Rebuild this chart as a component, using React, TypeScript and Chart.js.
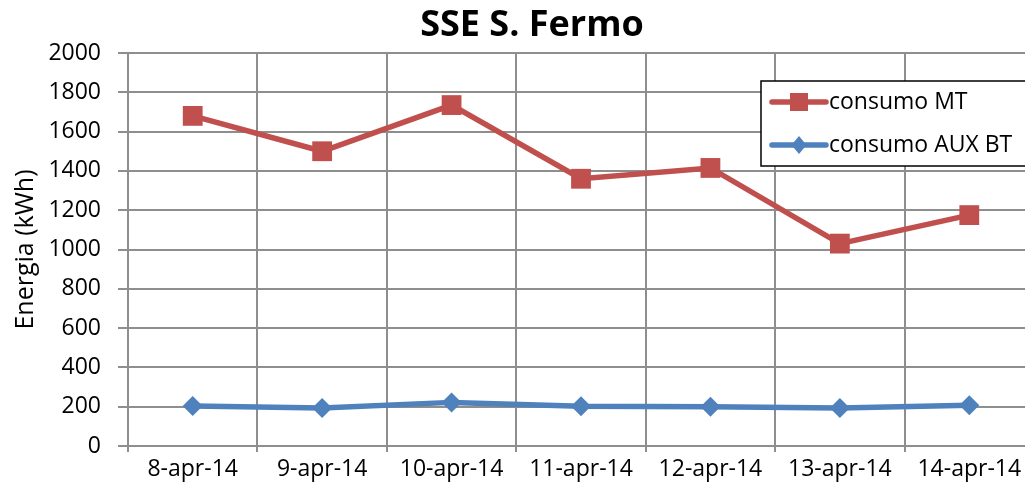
import React, { useEffect, useRef } from 'react';
import { Chart, registerables } from 'chart.js';

Chart.register(...registerables);

const categories = ['8-apr-14', '9-apr-14', '10-apr-14', '11-apr-14', '12-apr-14', '13-apr-14', '14-apr-14'];
const consumoMT = [1680, 1500, 1735, 1360, 1415, 1030, 1175];
const consumoAUX = [203, 193, 222, 202, 200, 193, 208];
const seriesNames = ['consumo MT', 'consumo AUX BT'];
const yMin = 0;
const yMax = 2000;
const yStep = 200;

const RED = '#C0504D';
const BLUE = '#4F81BD';
const GRID = '#8E8E8E';
const FONT = '"Open Sans"';

const insideLegend = {
  id: 'insideLegend',
  afterDraw(chart: any) {
    const ctx = chart.ctx as CanvasRenderingContext2D;
    ctx.save();
    const x0 = 761, y0 = 81, x1 = 1050, y1 = 166;
    ctx.fillStyle = '#ffffff';
    ctx.fillRect(x0, y0, x1 - x0, y1 - y0);
    ctx.strokeStyle = '#000000';
    ctx.lineWidth = 1.5;
    ctx.strokeRect(x0, y0, x1 - x0, y1 - y0);
    const rows = [102, 145];
    chart.data.datasets.forEach((ds: any, i: number) => {
      const y = rows[i];
      ctx.strokeStyle = ds.borderColor;
      ctx.lineWidth = 5.5;
      ctx.lineCap = 'round';
      ctx.beginPath();
      ctx.moveTo(772, y);
      ctx.lineTo(826, y);
      ctx.stroke();
      ctx.fillStyle = ds.borderColor;
      const cx = 799;
      if (ds.pointStyle === 'rect') {
        ctx.fillRect(cx - 9, y - 9, 18, 18);
      } else {
        ctx.beginPath();
        ctx.moveTo(cx, y - 9);
        ctx.lineTo(cx + 7.5, y);
        ctx.lineTo(cx, y + 9);
        ctx.lineTo(cx - 7.5, y);
        ctx.closePath();
        ctx.fill();
      }
      ctx.fillStyle = '#000000';
      ctx.font = `23px ${FONT}`;
      ctx.textBaseline = 'middle';
      ctx.textAlign = 'left';
      ctx.fillText(ds.label, 829, y);
    });
    ctx.restore();
  },
};

export default function App() {
  const ref = useRef<HTMLCanvasElement | null>(null);
  useEffect(() => {
    document.body.style.overflow = 'hidden';
    const chart = new Chart(ref.current!, {
      type: 'line',
      data: {
        labels: categories,
        datasets: [
          {
            label: seriesNames[0],
            data: consumoMT,
            borderColor: RED,
            backgroundColor: RED,
            borderWidth: 5.5,
            pointStyle: 'rect',
            pointRadius: 14,
            pointBorderWidth: 0,
            tension: 0,
            clip: false,
          },
          {
            label: seriesNames[1],
            data: consumoAUX,
            borderColor: BLUE,
            backgroundColor: BLUE,
            borderWidth: 5.5,
            pointStyle: 'rectRot',
            pointRadius: 10,
            pointBorderWidth: 0,
            tension: 0,
            clip: false,
          },
        ],
      },
      options: {
        responsive: false,
        animation: false,
        layout: { autoPadding: false, padding: { left: 30, right: 0, top: 0, bottom: 0 } },
        plugins: {
          legend: { display: false },
          tooltip: { enabled: false },
          title: {
            display: true,
            text: 'SSE S. Fermo',
            color: '#000000',
            font: { family: FONT, size: 36, weight: 'bold', lineHeight: 1.2 },
            padding: { top: 4, bottom: 5.8 },
          },
        },
        scales: {
          x: {
            type: 'category',
            offset: true,
            grid: {
              offset: true,
              color: GRID,
              lineWidth: 2,
              tickLength: 6,
              drawTicks: true,
            },
            border: { color: GRID, width: 2 },
            ticks: {
              color: '#000000',
              font: { family: FONT, size: 23 },
              padding: 4,
              maxRotation: 0,
              autoSkip: false,
            },
            afterFit(scale: any) {
              scale.height = 47;
              scale.paddingLeft = 0;
              scale.paddingRight = 0;
            },
          },
          y: {
            min: yMin,
            max: yMax,
            grid: {
              color: GRID,
              lineWidth: 2,
              tickLength: 10,
            },
            border: { color: GRID, width: 2 },
            ticks: {
              stepSize: yStep,
              color: '#000000',
              font: { family: FONT, size: 23 },
              padding: 17,
              callback: (v: any) => String(v),
            },
            title: {
              display: true,
              text: 'Energia (kWh)',
              color: '#000000',
              font: { family: FONT, size: 25 },
              padding: { top: -19, bottom: 0 },
            },
            afterFit(scale: any) {
              scale.width = 98;
            },
          },
        },
      },
      plugins: [insideLegend],
    } as any);
    return () => chart.destroy();
  }, []);
  return (
    <div style={{ position: 'fixed', left: 0, top: 0, width: 1034, height: 493, background: '#ffffff' }}>
      <canvas ref={ref} width={1034} height={493} />
    </div>
  );
}
